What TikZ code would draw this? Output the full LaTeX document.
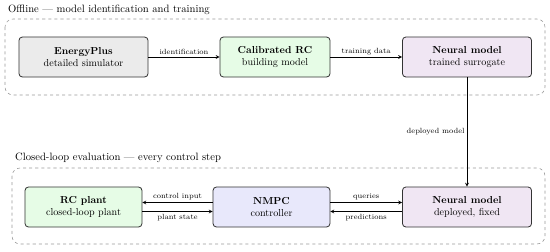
\documentclass[tikz,border=0pt]{standalone}
\usepackage{xcolor}
\definecolor{simGray}{HTML}{EBEBEB}
\definecolor{rcGreen}{HTML}{E6FCE6}
\definecolor{nnLilac}{HTML}{F0E6F3}
\definecolor{ctrlBlue}{HTML}{E8E8FB}
\usepackage{tikz}

\tikzset{
  block/.style={draw=black!80, line width=0.8pt, rounded corners=3.5pt,
    minimum height=1.39cm, align=center},
  group/.style={draw=black!40, dashed, line width=0.6pt, rounded corners=8pt},
  lbl/.style={font=\fontsize{7.4}{9}\selectfont, inner sep=2pt},
  heading/.style={anchor=base west, inner sep=0pt, font=\fontsize{10.5}{13}\selectfont},
}

\begin{document}
\begin{tikzpicture}[>=stealth, x=0.0347cm, y=-0.0347cm]
  \useasboundingbox (0,0) rectangle (550,251);
  % ------- offline part -------
  \node[heading] (offTitle) at (8,12)
    {Offline --- model identification and training};
  \draw[group] (5,19) rectangle (545,95);
  \node[block, fill=simGray, minimum width=4.48cm] (ep) at (83.5,57)
    {\textbf{EnergyPlus}\\ detailed simulator};
  \node[block, fill=rcGreen, minimum width=3.82cm] (rcModel) at (275,57)
    {\textbf{Calibrated RC}\\ building model};
  \node[block, fill=nnLilac, minimum width=4.48cm] (nnTrain) at (467,57)
    {\textbf{Neural model}\\ trained surrogate};
  \draw[->, line width=0.7pt] (ep) -- node[lbl, above] {identification} (rcModel);
  \draw[->, line width=0.7pt] (rcModel) -- node[lbl, above] {training data} (nnTrain);
  % ------- closed loop -------
  \node[heading] (loopTitle) at (15,160)
    {Closed-loop evaluation --- every control step};
  \draw[group] (12,168) rectangle (545,244);
  \node[block, fill=rcGreen, minimum width=4.06cm] (plant) at (83.5,207)
    {\textbf{RC plant}\\ closed-loop plant};
  \node[block, fill=ctrlBlue, minimum width=4.06cm] (nmpc) at (271.5,207)
    {\textbf{NMPC}\\ controller};
  \node[block, fill=nnLilac, minimum width=4.48cm] (nnDeploy) at (467,207)
    {\textbf{Neural model}\\ deployed, fixed};
  % pairs of arrows, one above and one below the middle
  \draw[->, line width=0.7pt] ([yshift=0.156cm]nmpc.west) -- node[lbl, above] {control input} ([yshift=0.156cm]plant.east);
  \draw[->, line width=0.7pt] ([yshift=-0.156cm]plant.east) -- node[lbl, below] {plant state} ([yshift=-0.156cm]nmpc.west);
  \draw[->, line width=0.7pt] ([yshift=0.156cm]nmpc.east) -- node[lbl, above] {queries} ([yshift=0.156cm]nnDeploy.west);
  \draw[->, line width=0.7pt] ([yshift=-0.156cm]nnDeploy.west) -- node[lbl, below] {predictions} ([yshift=-0.156cm]nmpc.east);
  % hand-over between the two parts
  \draw[->, line width=0.7pt] (nnTrain) -- node[lbl, left] {deployed model} (nnDeploy);
\end{tikzpicture}
\end{document}
